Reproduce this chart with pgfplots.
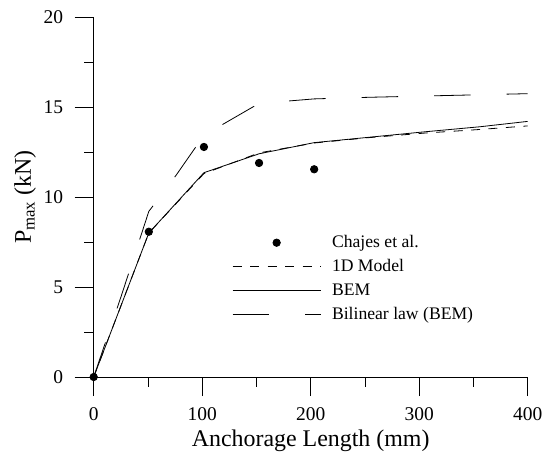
\documentclass[border=0pt]{standalone}
\usepackage{pgfplots}
\pgfplotsset{compat=1.18}
\usepackage{fontspec}
\setmainfont{Liberation Serif}

% Chajes et al. test results
\pgfplotstableread{
x y
0 0
50.8 8.07
101.6 12.78
152.4 11.89
203.2 11.54
}\chajes

\begin{document}
\begin{tikzpicture}
\begin{axis}[
  scale only axis,
  width=434bp, height=360bp,
  xmin=0, xmax=400, ymin=0, ymax=20,
  axis x line*=bottom, axis y line*=left,
  axis line style={line width=0.8bp},
  xtick={0,100,200,300,400},
  ytick={0,5,10,15,20},
  minor tick num=1,
  tick align=outside,
  major tick length=19bp, minor tick length=9.5bp,
  tick style={line width=0.8bp, black},
  /pgf/number format/assume math mode=true,
  tick label style={font=\fontsize{19.5}{22}\selectfont},
  xticklabel style={yshift=-8bp},
  yticklabel style={xshift=-8bp},
  xlabel={Anchorage Length (mm)},
  ylabel={P\textsubscript{max} (kN)},
  label style={font=\fontsize{24}{28}\selectfont},
  xlabel style={at={(axis description cs:0.5,-0.1936)}, anchor=base},
  ylabel style={at={(axis description cs:-0.158,0.5)}, anchor=center},
  cycle list={{black,mark=none}},
  legend cell align=left,
  legend style={at={(axis cs:127.5,8.0)}, anchor=north west, draw=none, fill=none,
    inner sep=0pt, row sep=5bp, font=\fontsize{17.7}{20}\selectfont,
    nodes={inner sep=2bp, text height=12bp, text depth=3bp},
    /tikz/every odd column/.append style={column sep=9bp}},
  legend image code/.code={\draw[#1] (0bp,0bp) -- (88bp,0bp);},
  every axis plot/.append style={line width=0.8bp, black},
]
\addplot[only marks, mark=*, mark size=3.7bp,
  legend image code/.code={\draw[black, mark=*, mark size=3.7bp] plot coordinates {(44bp,0bp)};}]
  table {\chajes};
\addlegendentry{Chajes et al.}
% 1D model
\addplot[dash pattern=on 9bp off 8.5bp] coordinates {
 (0,0) (50.8,8.0) (101.6,11.3) (152.4,12.45) (203.2,13.0) (254,13.3)
 (304.8,13.55) (355.6,13.75) (400,13.95)};
\addlegendentry{1D Model}
% BEM
\addplot coordinates {
 (0,0) (50.8,8.0) (101.6,11.35) (152.4,12.4) (203.2,13.02) (254,13.32)
 (304.8,13.62) (355.6,13.9) (400,14.2)};
\addlegendentry{BEM}
% Bilinear law (BEM)
\addplot[dash pattern=on 36.5bp off 36bp] coordinates {
 (0,0) (25.4,4.5) (50.8,9.2) (76.2,11.23) (101.6,13.43) (152.4,15.2)
 (203.2,15.45) (254,15.54) (304.8,15.61) (355.6,15.68) (400,15.74)};
\addlegendentry{Bilinear law (BEM)}
\end{axis}
\pgfresetboundingbox
\path (current axis.south west) ++(-93.7bp,-77bp);
\path (current axis.north east) ++(15.3bp,17bp);
\end{tikzpicture}
\end{document}
